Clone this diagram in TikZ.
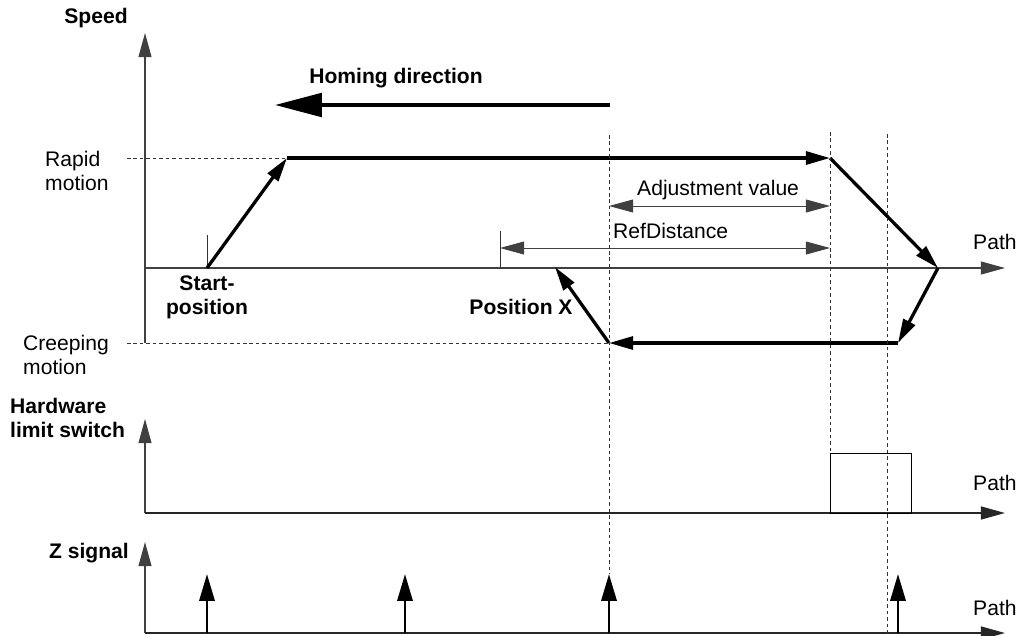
\documentclass[tikz,border=0pt]{standalone}
\usepackage{fontspec}
\setmainfont{Liberation Sans}
\usepackage{tikz}
\usetikzlibrary{arrows.meta, positioning, calc}
\tikzstyle{txt} = [inner sep=0pt, font=\fontsize{18}{20.5}\selectfont]
\tikzstyle{boldtxt} = [inner sep=0pt, font=\fontsize{18}{20.5}\selectfont\bfseries]
\tikzstyle{axis} = [line width=1pt, draw=black!75, -{Triangle[length=20.5pt,width=11pt]}]
\tikzstyle{baseaxis} = [line width=1.5pt, draw=black!85, -{Triangle[length=20.5pt,width=11pt]}]
\tikzstyle{motion} = [line width=2.8pt, line join=round, -{Triangle[length=20.5pt,width=11pt]}]
\tikzstyle{dimline} = [line width=0.8pt, draw=black!75, {Triangle[length=20.5pt,width=11pt]}-{Triangle[length=20.5pt,width=11pt]}]
\tikzstyle{guide} = [line width=0.6pt, draw=black!80, dash pattern=on 3pt off 2.5pt]
\tikzstyle{tick} = [line width=0.8pt, draw=black!80]
\tikzstyle{pulse} = [line width=2.3pt, -{Triangle[length=23pt,width=13pt]}]

\begin{document}
\begin{tikzpicture}[x=0.03cm, y=-0.03cm]
    \useasboundingbox (0,0) rectangle (1030,635);

    % speed over path
    \coordinate (speedbot) at (145,343);
    \coordinate (speedtop) at (145,33);
    \coordinate (origin) at (145,268);
    \coordinate (pathend) at (1005,268);
    \coordinate (start) at (207,268);
    \coordinate (starttick) at (207,235);
    \coordinate (rapidA) at (287,158);
    \coordinate (rapidB) at (830,158);
    \coordinate (turn) at (938,268);
    \coordinate (creepA) at (898,343);
    \coordinate (creepB) at (609,343);
    \coordinate (posx) at (555,267);
    \coordinate (rapidlevel) at (127,158);
    \coordinate (creeplevel) at (127,343);
    \coordinate (homeA) at (610,105);
    \coordinate (homeB) at (275,105);
    \coordinate (reftick) at (500,231);
    \coordinate (refbase) at (500,268);
    \coordinate (adjA) at (609,206);
    \coordinate (adjB) at (830,206);
    \coordinate (refA) at (500,248);
    \coordinate (refB) at (830,248);

    \node (speedlbl) [boldtxt] at (96,18) {Speed};
    \node (hominglbl) [boldtxt] at (396,78) {Homing direction};
    \node (rapidlbl) [txt, anchor=west, align=left] at (45,171) {Rapid\\motion};
    \node (creeplbl) [txt, anchor=west, align=left] at (23,355) {Creeping\\motion};
    \node (startlbl) [boldtxt, align=center] at (207,297) {Start-\\position};
    \node (posxlbl) [boldtxt] at (521,307) {Position X};
    \node (adjlbl) [txt, anchor=base west] at (637,195) {Adjustment value};
    \node (reflbl) [txt, anchor=base west] at (613,238) {RefDistance};
    \node (path1) [txt, anchor=base west] at (973,249) {Path};

    \draw [guide] (rapidlevel) -- (rapidA);
    \draw [guide] (creeplevel) -- (creepB);
    \draw [axis] (speedbot) -- (speedtop);
    \draw [axis] (origin) -- (pathend);
    \draw [tick] (start) -- (starttick);
    \draw [tick] (refbase) -- (reftick);
    \draw [line width=3.4pt, -{Triangle[length=40pt,width=20pt]}] (homeA) -- (homeB);
    \draw [motion] (start) -- (rapidA);
    \draw [motion] (rapidA) -- (rapidB);
    \draw [motion] (rapidB) -- (turn);
    \draw [motion] (turn) -- (creepA);
    \draw [motion] (creepA) -- (creepB);
    \draw [motion] (creepB) -- (posx);
    \draw [dimline] (adjA) -- (adjB);
    \draw [dimline] (refA) -- (refB);

    % hardware limit switch
    \coordinate (hwbot) at (145,513);
    \coordinate (hwtop) at (145,419);
    \coordinate (hwend) at (1005,513);
    \coordinate (camA) at (830,513);
    \coordinate (camB) at (911,453);
    \node (hwlbl) [boldtxt, anchor=west, align=left] at (10,418) {Hardware\\limit switch};
    \node (path2) [txt, anchor=base west] at (973,490) {Path};
    \draw [axis] (hwbot) -- (hwtop);
    \draw [baseaxis] (hwbot) -- (hwend);
    \draw [line width=0.8pt] (camA) rectangle (camB);

    % Z signal
    \coordinate (zbot) at (145,633);
    \coordinate (ztop) at (145,542);
    \coordinate (zend) at (1005,633);
    \node (zlbl) [boldtxt, anchor=east] at (129,553) {Z signal};
    \node (path3) [txt, anchor=base west] at (973,615) {Path};
    \draw [axis] (zbot) -- (ztop);
    \draw [baseaxis] (zbot) -- (zend);
    \foreach \px [count=\i] in {207,405,609,898} {
        \coordinate (zp\i) at (\px,633);
        \coordinate (zt\i) at (\px,574);
        \draw [pulse] (zp\i) -- (zt\i);
    }

    \coordinate (guideAtop) at (609,135);
    \coordinate (guideBtop) at (830,132);
    \coordinate (guideBbot) at (830,453);
    \coordinate (guideCtop) at (887,134);
    \coordinate (guideCbot) at (887,633);
    \draw [guide] (guideAtop) -- (zt3);
    \draw [guide] (guideBtop) -- (guideBbot);
    \draw [guide] (guideCtop) -- (guideCbot);
\end{tikzpicture}
\end{document}
